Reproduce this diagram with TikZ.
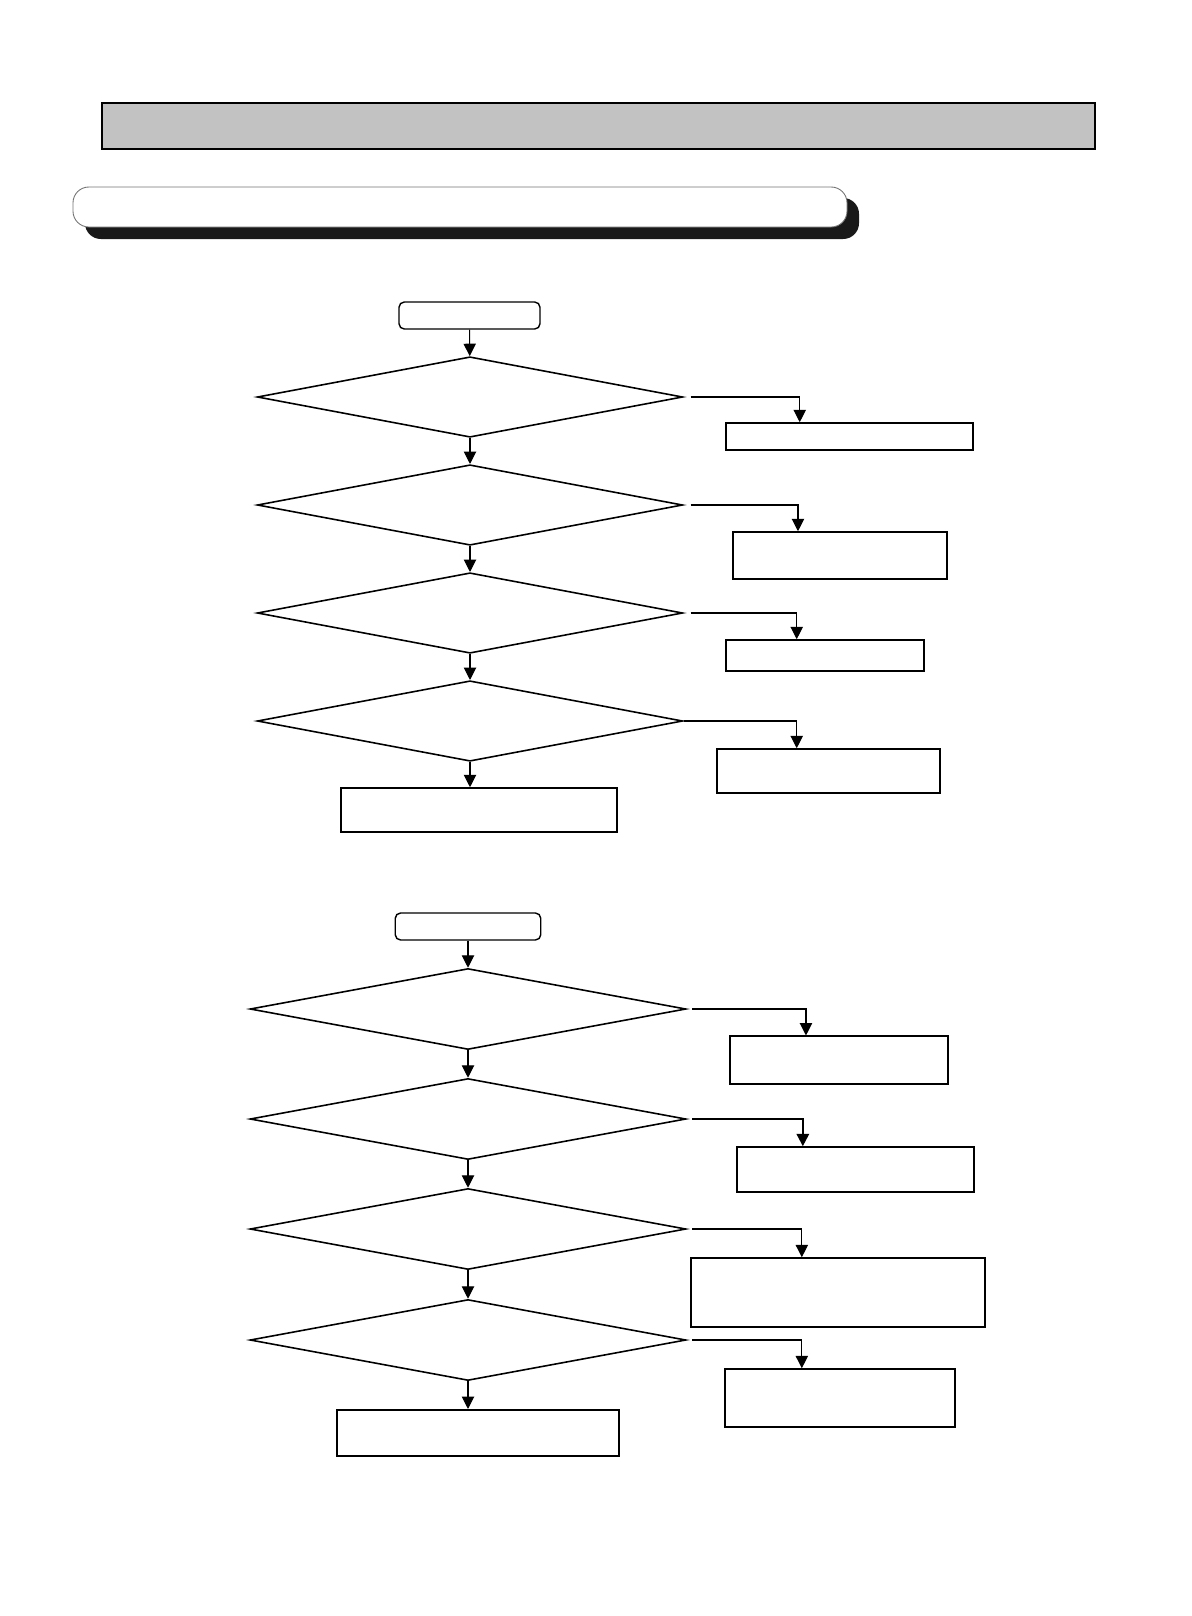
\documentclass[tikz,border=0pt]{standalone}
\usetikzlibrary{arrows.meta,calc,shapes.geometric}

\tikzset{
  startbox/.style={draw,rounded corners=3pt,line width=0.8pt,inner sep=0pt},
  procbox/.style={draw,line width=0.9pt,inner sep=0pt},
  decision/.style={draw,diamond,line width=0.9pt,inner sep=0pt,aspect=5},
  link/.style={line width=0.6pt,-{Triangle[width=7pt,length=7pt]}}
}

\begin{document}
\begin{tikzpicture}[x=0.02cm,y=-0.02cm]
    \useasboundingbox (0,0) rectangle (1192,1616);
    % page header
    \draw[line width=1.1pt,fill=black!24] (102,103) rectangle (1095,149);
    \fill[black!90,rounded corners=9pt] (85,198) rectangle (859,239);
    \draw[black!55,line width=0.5pt,fill=white,rounded corners=9pt] (73,187) rectangle (847,227);

    % first chart
    \node[startbox,minimum width=2.82cm,minimum height=0.54cm] (s1) at (469.5,315.5) {};
    \node[decision,minimum width=8.51cm,minimum height=1.61cm] (d11) at (470,397) {};
    \node[decision,minimum width=8.51cm,minimum height=1.61cm] (d12) at (470,505) {};
    \node[decision,minimum width=8.51cm,minimum height=1.61cm] (d13) at (470,613) {};
    \node[decision,minimum width=8.51cm,minimum height=1.61cm] (d14) at (470,721) {};
    \node[procbox,minimum width=5.52cm,minimum height=0.88cm] (e1) at (479,810) {};
    \node[procbox,minimum width=4.94cm,minimum height=0.54cm] (r11) at (849.5,436.5) {};
    \node[procbox,minimum width=4.29cm,minimum height=0.94cm] (r12) at (840,555.5) {};
    \node[procbox,minimum width=3.96cm,minimum height=0.62cm] (r13) at (825,655.5) {};
    \node[procbox,minimum width=4.46cm,minimum height=0.88cm] (r14) at (828.5,771) {};
    \draw[link] (s1) -- (d11);
    \draw[link] (d11) -- (d12);
    \draw[link] (d12) -- (d13);
    \draw[link] (d13) -- (d14);
    \draw[link] (d14.south) -- (d14.south |- e1.north);
    \draw[link,shorten <=4pt] (d11.east) -| ($(r11.north west)+(74.5,0)$);
    \draw[link,shorten <=4pt] (d12.east) -| ($(r12.north west)+(66,0)$);
    \draw[link,shorten <=4pt] (d13.east) -| ($(r13.north west)+(71.5,0)$);
    \draw[link] (d14.east) -| ($(r14.north west)+(80.5,0)$);

    % second chart
    \node[startbox,minimum width=2.91cm,minimum height=0.54cm] (s2) at (468,926.5) {};
    \node[decision,minimum width=8.72cm,minimum height=1.62cm] (d21) at (468,1009) {};
    \node[decision,minimum width=8.72cm,minimum height=1.62cm] (d22) at (468,1119) {};
    \node[decision,minimum width=8.72cm,minimum height=1.62cm] (d23) at (468,1229) {};
    \node[decision,minimum width=8.72cm,minimum height=1.62cm] (d24) at (468,1340) {};
    \node[procbox,minimum width=5.64cm,minimum height=0.93cm] (e2) at (478,1433) {};
    \node[procbox,minimum width=4.35cm,minimum height=0.95cm] (r21) at (839,1060) {};
    \node[procbox,minimum width=4.74cm,minimum height=0.90cm] (r22) at (855.5,1169.5) {};
    \node[procbox,minimum width=5.88cm,minimum height=1.38cm] (r23) at (838,1292.5) {};
    \node[procbox,minimum width=4.60cm,minimum height=1.16cm] (r24) at (840,1398) {};
    \draw[link] (s2) -- (d21);
    \draw[link] (d21) -- (d22);
    \draw[link] (d22) -- (d23);
    \draw[link] (d23) -- (d24);
    \draw[link] (d24.south) -- (d24.south |- e2.north);
    \draw[link,shorten <=3pt] (d21.east) -| ($(r21.north west)+(76.5,0)$);
    \draw[link,line width=1.2pt,shorten <=3pt] (d22.east) -| ($(r22.north west)+(66.6,0)$);
    \draw[link,shorten <=3pt] (d23.east) -| ($(r23.north west)+(111.6,0)$);
    \draw[link,shorten <=3pt] (d24.east) -| ($(r24.north west)+(77.6,0)$);
\end{tikzpicture}
\end{document}
